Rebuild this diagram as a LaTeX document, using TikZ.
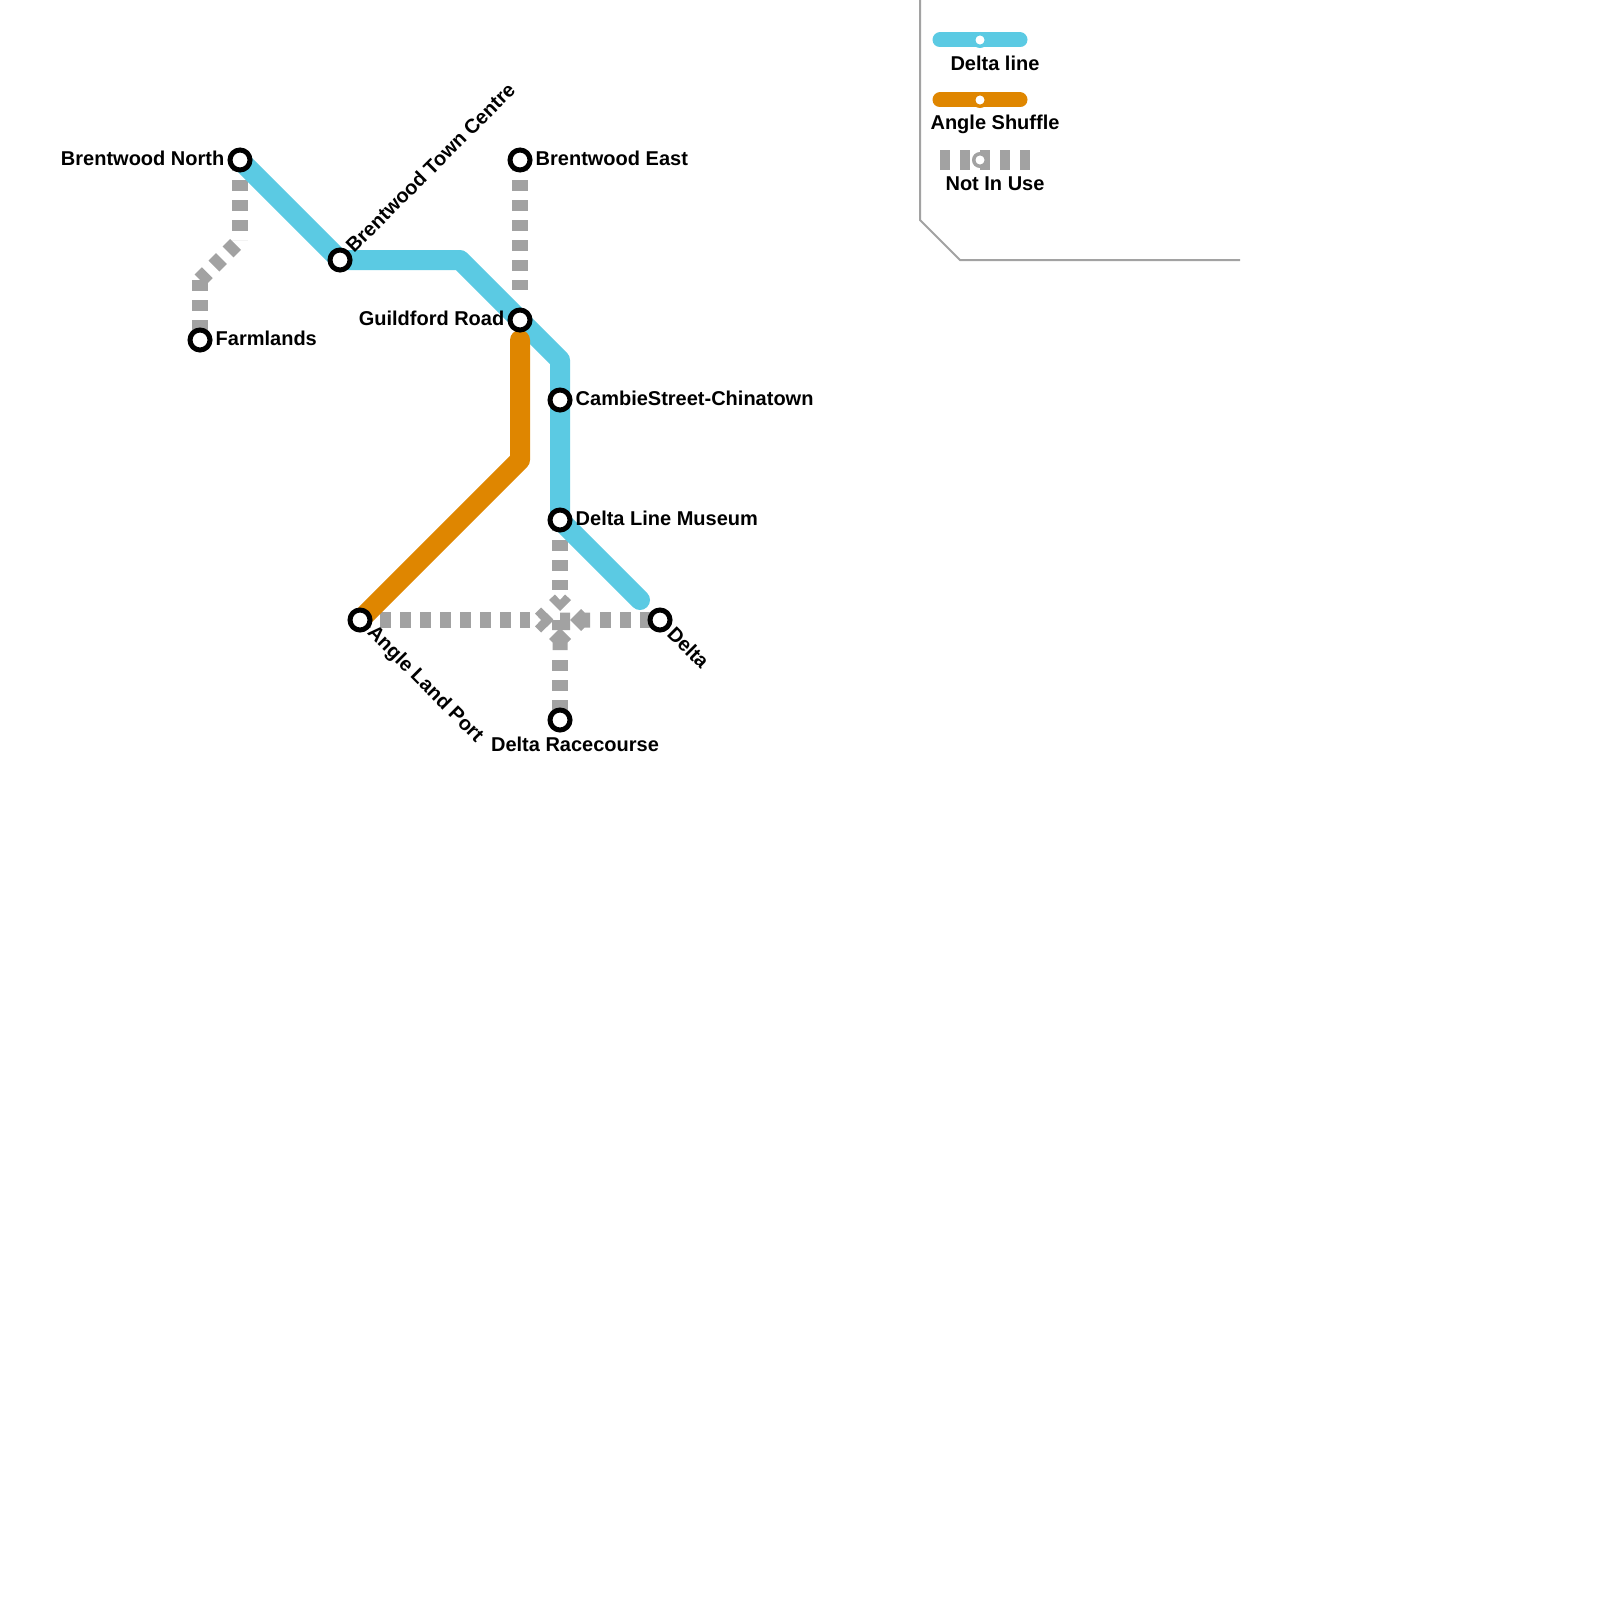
\documentclass[tikz,border=0pt]{standalone}
\usepackage{xcolor}
\usepackage{fontspec}
\setmainfont{Liberation Sans}
\usetikzlibrary{positioning, backgrounds}

\definecolor{deltablue}{HTML}{5BCAE3}
\definecolor{angleorange}{HTML}{DF8600}
\definecolor{unusedgrey}{HTML}{A2A2A2}

\tikzset{
    station/.style={circle, draw=black, fill=white, line width=5pt, minimum size=20pt, inner sep=0pt, on grid},
    keystop/.style={circle, fill=white, line width=3.5pt, minimum size=12.5pt, inner sep=0pt, on grid},
    stationlabel/.style={inner sep=0pt, font=\fontsize{20}{24}\selectfont\bfseries},
    deltaline/.style={draw=deltablue, line width=20pt, line cap=round, line join=round},
    angleline/.style={draw=angleorange, line width=20pt, line cap=round, line join=round},
    unusedline/.style={draw=unusedgrey, line width=15.5pt, dash pattern=on 10.5pt off 9.5pt},
    keyline/.style={line width=15pt, line cap=round}
}

\begin{document}
\begin{tikzpicture}[x=1pt, y=-1pt]
    \useasboundingbox (0,0) rectangle (1600,1600);

    % stations
    \node[station] (BrentwoodNorth) at (240,160) {};
    \node[station] (TownCentre) [below right=100pt and 100pt of BrentwoodNorth] {};
    \node[station] (Farmlands) [below left=180pt and 40pt of BrentwoodNorth] {};
    \node[station] (BrentwoodEast) [right=280pt of BrentwoodNorth] {};
    \node[station] (Guildford) [below=160pt of BrentwoodEast] {};
    \node[station] (Cambie) [below right=80pt and 40pt of Guildford] {};
    \node[station] (Museum) [below=120pt of Cambie] {};
    \node[station] (Racecourse) [below=200pt of Museum] {};
    \node[station] (Delta) [below right=100pt and 100pt of Museum] {};
    \node[station] (AnglePort) [left=300pt of Delta] {};

    % bends and dash ends
    \coordinate (BendA) at (460,260);
    \coordinate (BendB) at (560,360);
    \coordinate (DeltaEnd) at (640,600);
    \coordinate (OrangeTop) at (520,340);
    \coordinate (OrangeBend) at (520,460);
    \coordinate (GreyBendA) at (240,240);
    \coordinate (GreyBendB) at (200,280);
    \coordinate (Crossing) at (560,620);
    \coordinate (CrossTop) at (560,590);
    \coordinate (CrossLeft) at (530,620);
    \coordinate (CrossRight) at (600,620);
    \coordinate (CrossBottom) at (560,660);

    \begin{scope}[on background layer]
        \draw[unusedline] (BrentwoodNorth.center) -- (GreyBendA);
        \draw[unusedline, dash phase=13.7pt] (GreyBendA) -- (GreyBendB);
        \draw[unusedline] (GreyBendB) -- (Farmlands.center);
        \draw[unusedline, shorten >=30pt] (BrentwoodEast.center) -- (Guildford.center);
        \draw[unusedline] (Museum.center) -- (CrossTop);
        \draw[unusedline] (AnglePort.center) -- (CrossLeft);
        \draw[unusedline] (CrossRight) -- (Delta.center);
        \draw[unusedline] (CrossBottom) -- (Racecourse.center);

        % the crossing
        \begin{scope}[shift={(Crossing)}, fill=unusedgrey]
            \fill (-25,-6.5) -- (-19,-12.5) -- (-7,-1) -- (-7,1) -- (-19,12.5) -- (-25,6.5) -- (-19,0) -- cycle;
            \fill (-11,-20) -- (-5,-25.5) -- (0,-20) -- (5,-25.5) -- (11,-20) -- (0,-9) -- cycle;
            \fill (-8,0) -- (0,0) -- (0,-7.5) -- (10,-7.5) -- (10,10) -- (-8,10) -- cycle;
            \fill (10,0) -- (21,-11) -- (24.5,-7.5) -- (30,-7.5) -- (30,7.5) -- (24.5,7.5) -- (21,11) -- cycle;
            \fill (0,8) -- (11,19) -- (7.5,22.5) -- (7.5,30) -- (-7.5,30) -- (-7.5,22.5) -- (-11,19) -- cycle;
        \end{scope}

        \draw[deltaline] (BrentwoodNorth.center) -- (TownCentre.center) -- (BendA) -- (BendB)
            -- (Cambie.center) -- (Museum.center) -- (DeltaEnd);
        \draw[angleline] (OrangeTop) -- (OrangeBend) -- (AnglePort.center);
    \end{scope}

    % station names
    \node[stationlabel] (BrentwoodNorthText) [left=3pt of BrentwoodNorth, yshift=2pt] {Brentwood North};
    \node[stationlabel] (FarmlandsText) [right=3pt of Farmlands, yshift=2pt] {Farmlands};
    \node[stationlabel] (BrentwoodEastText) [right=3pt of BrentwoodEast, yshift=2pt] {Brentwood East};
    \node[stationlabel] (GuildfordText) [left=3pt of Guildford, yshift=2pt] {Guildford Road};
    \node[stationlabel] (CambieText) [right=3pt of Cambie, yshift=2pt] {CambieStreet-Chinatown};
    \node[stationlabel] (MuseumText) [right=3pt of Museum, yshift=2pt] {Delta Line Museum};
    \node[stationlabel] (RacecourseText) [below=4pt of Racecourse, xshift=15pt] {Delta Racecourse};
    \node[stationlabel, rotate=45, anchor=west] (TownCentreText) at ([shift={(9,-11)}]TownCentre.center) {Brentwood Town Centre};
    \node[stationlabel, rotate=-45, anchor=west] (AnglePortText) at ([shift={(10,10)}]AnglePort.center) {Angle Land Port};
    \node[stationlabel, rotate=-45, anchor=west] (DeltaText) at ([shift={(11,10)}]Delta.center) {Delta};

    % key
    \coordinate (KeyCornerA) at (920,0);
    \coordinate (KeyCornerB) at (920,220);
    \coordinate (KeyCornerC) at (960,260);
    \coordinate (KeyCornerD) at (1240,260);
    \draw[unusedgrey, line width=2pt] (KeyCornerA) -- (KeyCornerB) -- (KeyCornerC) -- (KeyCornerD);

    \node[keystop, draw=deltablue] (KeyDelta) at (980,40) {};
    \node[keystop, draw=angleorange] (KeyAngle) [below=60pt of KeyDelta] {};
    \node[keystop, draw=unusedgrey] (KeyUnused) [below=60pt of KeyAngle] {};
    \begin{scope}[on background layer]
        \draw[keyline, deltablue] ([xshift=-40pt]KeyDelta.center) -- ([xshift=40pt]KeyDelta.center);
        \draw[keyline, angleorange] ([xshift=-40pt]KeyAngle.center) -- ([xshift=40pt]KeyAngle.center);
        \draw[unusedgrey, line width=20pt, dash pattern=on 10pt off 10pt] ([xshift=-40pt]KeyUnused.center) -- ([xshift=50pt]KeyUnused.center);
    \end{scope}
    \node[stationlabel, anchor=base] (KeyDeltaText) at (995,70.5) {Delta line};
    \node[stationlabel, anchor=base] (KeyAngleText) at (995,130) {Angle Shuffle};
    \node[stationlabel, anchor=base] (KeyUnusedText) at (995,190) {Not In Use};
\end{tikzpicture}
\end{document}
